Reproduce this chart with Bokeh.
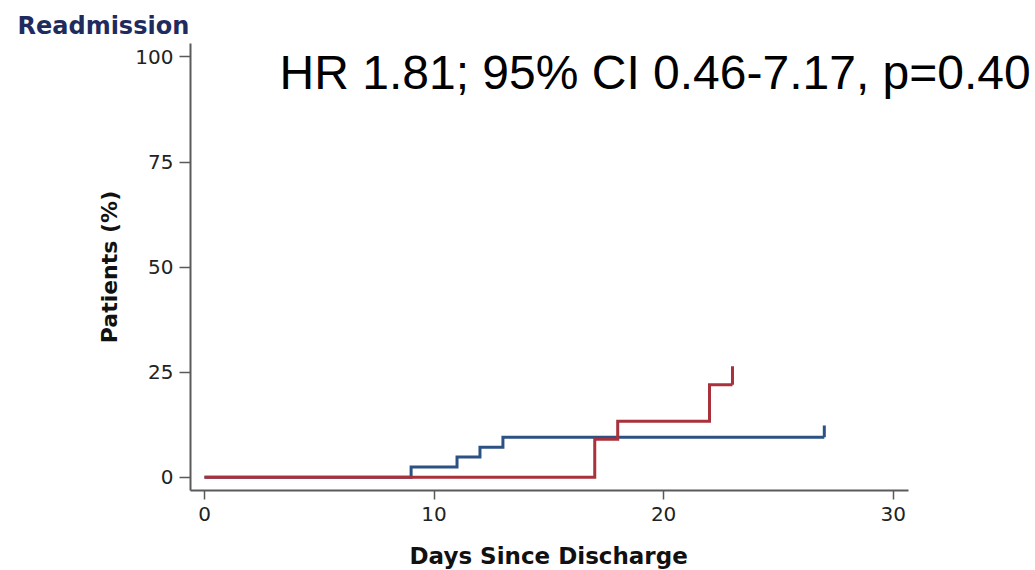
from bokeh.plotting import figure
from bokeh.models import Range1d, FixedTicker, Label, Title
from bokeh.embed import file_html
from bokeh.resources import INLINE

# ---- data ----
blue_days = [0, 9, 11, 12, 13, 27]
blue_pct = [0, 2.4, 4.8, 7.1, 9.5, 9.5]
blue_censor_day = [27]
blue_censor_lo = [9.5]
blue_censor_hi = [12.3]

red_days = [0, 17, 18, 22, 23]
red_pct = [0, 9.0, 13.3, 22.0, 22.0]
red_censor_day = [23]
red_censor_lo = [22.0]
red_censor_hi = [26.4]

x_ticks = [0, 10, 20, 30]
y_ticks = [0, 25, 50, 75, 100]

title_text = "Readmission"
stats_text = "HR 1.81; 95% CI 0.46-7.17, p=0.40"
x_label = "Days Since Discharge"
y_label = "Patients (%)"

BLUE = "#2c5183"
RED = "#a8313b"
AXIS = "#5a5a5a"
CHART_FONT = "DejaVu Sans"

p = figure(width=1035, height=570, output_backend="svg", toolbar_location=None,
           x_range=Range1d(-0.61, 36.2), y_range=Range1d(-3.17, 103.2),
           min_border_left=190, min_border_right=0,
           min_border_top=43, min_border_bottom=80)
p.outline_line_color = None
p.xgrid.visible = False
p.ygrid.visible = False
p.background_fill_color = "white"
p.border_fill_color = "white"

p.title.text = title_text
p.title.align = "left"
p.title.offset = -173
p.title.text_font = CHART_FONT
p.title.text_font_style = "bold"
p.title.text_font_size = "24px"
p.title.text_color = "#1f2b5e"
p.title.standoff = 8

for ax in (p.xaxis[0], p.yaxis[0]):
    ax.axis_line_color = AXIS
    ax.axis_line_width = 2
    ax.major_tick_line_color = AXIS
    ax.major_tick_line_width = 1.5
    ax.major_tick_out = 9
    ax.major_tick_in = 0
    ax.minor_tick_line_color = None
    ax.major_label_text_font = CHART_FONT
    ax.major_label_text_font_size = "20px"
    ax.major_label_text_color = "#222222"
    ax.axis_label_text_font = CHART_FONT
    ax.axis_label_text_font_style = "bold"
    ax.axis_label_text_font_size = "22px"
    ax.axis_label_text_color = "#111111"

p.yaxis.major_tick_out = 11
p.xaxis.bounds = (-0.61, 30.66)
p.yaxis.bounds = (-3.17, 103.2)
p.xaxis.ticker = FixedTicker(ticks=x_ticks)
p.yaxis.ticker = FixedTicker(ticks=y_ticks)
p.yaxis.axis_label = y_label
p.xaxis.major_label_standoff = 7
p.yaxis.major_label_standoff = 6
p.yaxis.axis_label_standoff = 10

# x-axis label as a title below the axis, aligned to the axis extent
x_title = Title(text="\n" + x_label, align="left", offset=219, text_font=CHART_FONT,
                text_font_style="bold", text_font_size="23px", text_line_height=0.7,
                vertical_align="bottom", text_color="#111111", standoff=0)
p.add_layout(x_title, "below")

p.step(blue_days, blue_pct, mode="after", line_color=BLUE, line_width=3, line_join="miter")
p.segment(blue_censor_day, blue_censor_lo, blue_censor_day, blue_censor_hi,
          line_color=BLUE, line_width=3)
p.step(red_days, red_pct, mode="after", line_color=RED, line_width=3, line_join="miter")
p.segment(red_censor_day, red_censor_lo, red_censor_day, red_censor_hi,
          line_color=RED, line_width=3)

p.add_layout(Label(x=3.27, y=96.3, text=stats_text, text_font="Liberation Sans",
                   text_font_size="48px", text_color="#000000",
                   text_baseline="alphabetic", text_align="left"))

open("out.html", "w").write(file_html(p, INLINE))
